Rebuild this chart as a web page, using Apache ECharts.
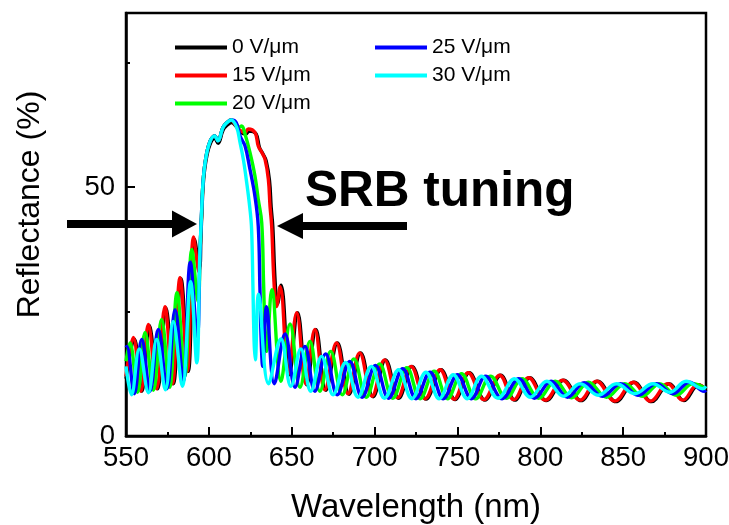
<!DOCTYPE html>
<html>
<head>
<meta charset="utf-8">
<script src="https://cdn.jsdelivr.net/npm/echarts@6/dist/echarts.min.js"></script>
<style>
html,body{margin:0;padding:0;background:#fff;}
#c{width:729px;height:525px;}
</style>
</head>
<body>
<div id="c"></div>
<script>
// Wavelength (nm), Reflectance (%) pairs
const seriesNames = ['0 V/\u03bcm', '15 V/\u03bcm', '20 V/\u03bcm', '25 V/\u03bcm', '30 V/\u03bcm'];
const xTicks = [550, 600, 650, 700, 750, 800, 850, 900];
const yTicks = [0, 50];

const v0 = [[550,11.5],[555,19.5],[559.6,9],[564.1,22.2],[569.1,9.5],[574.1,25.8],[578.6,10.5],[583.2,31.6],[587.6,13],[591.4,39.5],[594.4,34],[595.2,40],[595.8,45],[596.6,50.5],[598.1,55],[600.6,58.5],[603.6,59.8],[605.6,58.8],[608.6,61.5],[611.1,62.5],[613.8,63],[616.5,62.2],[619.4,61],[622.4,60.7],[624.4,61.3],[628.5,60.7],[630.5,58],[632.6,56.7],[634.6,55.3],[636.6,51.3],[637.6,46],[638.6,42],[640,31],[641.4,26.5],[643.6,30.3],[648.6,12.3],[653.6,24.8],[659.1,10.3],[664.6,21.4],[670.6,9.2],[677.6,18.7],[684.6,8.4],[691.6,16.7],[699.1,7.9],[706.6,15.3],[714.6,7.6],[722.6,14],[731.1,7.4],[740.1,13.3],[748.6,7.3],[757.1,12.7],[766.6,7.2],[776.1,12.2],[784.6,7.2],[793.6,11.7],[803.6,7.1],[814.1,11.2],[824.6,7.1],[834.6,11],[845.6,6.9],[856.6,10.8],[867.1,6.9],[877.6,10.5],[886.6,7.1],[895.6,10.3],[900,9]];

const v15 = [[550,12],[554.4,19.8],[559,9],[563.5,22.4],[568.5,9.5],[573.5,26],[578,10.5],[582.6,31.8],[587,13],[590.8,40],[594,33],[595,40],[595.7,45],[596.5,51],[598,55.5],[600.5,59],[603.5,60.3],[605.5,59.3],[608.5,62],[611,63],[613.5,63.5],[616,62.5],[618.8,61.4],[621.8,61],[623.8,61.7],[627.8,61],[629.8,58.3],[631.9,57],[633.9,55.6],[635.9,51.6],[636.9,46.2],[637.9,42.2],[639.3,31],[640.8,26],[643,30],[648,12.5],[653,24.8],[658.5,10.5],[664,21.4],[670,9.3],[677,18.7],[684,8.5],[691,16.7],[698.5,8],[706,15.3],[714,7.7],[722,14],[730.5,7.5],[739.5,13.3],[748,7.4],[756.5,12.7],[766,7.3],[775.5,12.2],[784,7.3],[793,11.7],[803,7.2],[813.5,11.2],[824,7.2],[834,11],[845,7],[856,10.8],[866.5,7],[877,10.5],[886,7.2],[895,10.3],[900,9.5]];

const v20 = [[550,15],[552.4,18.7],[557,8.8],[561.5,20.8],[566.5,9.2],[571.5,23.4],[576.3,9.8],[580.8,28.8],[585.5,12],[589.8,37.5],[593.5,27],[594.8,38],[595.6,44.5],[596.5,51],[598,55.5],[600.5,59],[603.5,60.3],[605.5,59.3],[608.5,62],[611,63],[613.5,63.5],[616,63],[618,62],[619.8,62.3],[621.8,60.7],[624.8,57],[627.8,52.3],[629.8,47.6],[631.9,42.9],[633,31],[633.9,21],[634.8,17],[638,29.4],[643.5,11],[649,22.5],[655,9.8],[661,19],[667,9],[673.5,17],[680.5,8.3],[687.5,15.5],[695,7.8],[703,14.5],[711,7.6],[719.5,13.7],[727.5,7.5],[736,13],[744,7.5],[752.5,12.5],[761,7.5],[770,12],[779.5,7.6],[789,11.5],[799,7.6],[809,11],[819,7.7],[829,10.8],[840,7.8],[851,10.5],[861.5,8],[872,10.5],[882,8.2],[892,10.5],[900,9.5]];

const v25 = [[550,17.8],[550.5,18],[555,8.5],[559.5,19.4],[564.5,9],[569.5,21.4],[574.8,9.5],[579.6,25.4],[584.6,11],[588.8,34.9],[593,20],[594.6,36],[595.5,44],[596.5,51],[598,55.5],[600.5,59],[603.5,60.3],[605.5,59.3],[608.5,62],[611,63],[613.5,63.5],[616.5,63],[618.8,60.3],[621.8,58.3],[624.8,53.6],[627.8,48.2],[629.8,42.2],[630.8,30],[631.6,19],[632.5,14],[634.8,26],[639.5,10.5],[646,20.5],[652,9.8],[658,18],[664,9],[670.5,16.5],[677.5,8.3],[685,15],[692.5,7.8],[700.5,14.2],[708.5,7.6],[717,13.5],[725,7.5],[733.5,12.8],[741.5,7.5],[750,12.3],[758.5,7.5],[767,12],[777,7.5],[787,11.5],[796.5,7.6],[806.5,11],[816.5,7.8],[826.5,10.7],[837.5,8],[848.5,10.5],[859,8.2],[870,10.5],[880,8.5],[890,10.8],[899,9],[900,9.2]];

const v30 = [[550,14],[553.3,8.3],[558,17.5],[563.5,8.7],[568.5,19.4],[573.8,9.3],[578.5,23],[584,10],[589,31],[592.7,14.7],[594.5,36],[595.5,44],[596.5,51],[598,55.5],[600.5,59],[603.5,60.3],[605.5,59.3],[608.5,62],[611,63],[613.5,63.5],[616.8,62],[618.8,59],[620.8,55.6],[622.8,51],[624.8,45.6],[625.8,41.5],[626.6,30],[627.3,19],[628,15.3],[630,28.5],[636,10.5],[643.5,19.5],[649.5,10],[655.5,17.5],[661.5,9],[668,16],[675,8.3],[682.5,14.8],[690,7.8],[698,14],[706,7.6],[714.5,13.3],[722.5,7.5],[731,12.8],[739,7.5],[747.5,12.3],[756,7.5],[764.5,12],[774.5,7.6],[784.5,11.5],[794,7.8],[804,11],[814,8],[824,10.5],[835,8.2],[846,10.5],[857,8.5],[868,10.5],[878,8.8],[888,11],[898,9.5],[900,10]];

const seriesData = [v0, v15, v20, v25, v30];
const colors = ['#000000', '#ff0000', '#00ff00', '#0000ff', '#00ffff'];

const FONT = '"Liberation Sans", Arial, sans-serif';
const chart = echarts.init(document.getElementById('c'), null, {renderer: 'canvas'});

const option = {
  animation: false,
  backgroundColor: '#fff',
  grid: {left: 126, right: 23, top: 13, bottom: 89, show: true, borderColor: '#000', borderWidth: 2.5,
         containLabel: false, outerBoundsMode: 'none'},
  legend: [
    {data: seriesNames.slice(0, 3), orient: 'vertical', left: 170, top: 32, itemWidth: 52, itemHeight: 4, itemGap: 7, icon: 'rect',
     textStyle: {fontFamily: FONT, fontSize: 21, color: '#000'}},
    {data: seriesNames.slice(3), orient: 'vertical', left: 370, top: 32, itemWidth: 52, itemHeight: 4, itemGap: 7, icon: 'rect',
     textStyle: {fontFamily: FONT, fontSize: 21, color: '#000'}}
  ],
  xAxis: {
    type: 'value', min: xTicks[0], max: xTicks[xTicks.length - 1], interval: 50,
    name: 'Wavelength (nm)', nameLocation: 'middle', nameGap: 55,
    nameTextStyle: {fontFamily: FONT, fontSize: 33, color: '#000'},
    axisLine: {lineStyle: {color: '#000', width: 2.5}},
    axisTick: {inside: true, length: 9, lineStyle: {color: '#000', width: 2}},
    minorTick: {show: true, splitNumber: 2, length: 4, lineStyle: {color: '#000', width: 2}},
    axisLabel: {fontFamily: FONT, fontSize: 27.5, color: '#000', margin: 8},
    splitLine: {show: false}
  },
  yAxis: [
    {
      type: 'value', min: 0, max: 85, interval: 50,
      name: 'Reflectance (%)', nameLocation: 'middle', nameGap: 80,
      nameTextStyle: {fontFamily: FONT, fontSize: 32, color: '#000', padding: [0, 0, 0, 40]},
      axisLine: {lineStyle: {color: '#000', width: 2.5}},
      axisTick: {inside: true, length: 9, lineStyle: {color: '#000', width: 2}},
      axisLabel: {fontFamily: FONT, fontSize: 27.5, color: '#000', margin: 11, showMaxLabel: false,
        formatter: function (v) { return yTicks.indexOf(v) >= 0 ? String(v) : ''; }},
      splitLine: {show: false}
    },
    {
      type: 'value', min: 0, max: 85, interval: 25, position: 'left',
      axisLine: {show: false},
      axisTick: {inside: true, length: 4, lineStyle: {color: '#000', width: 2}},
      axisLabel: {show: false},
      splitLine: {show: false}
    }
  ],
  series: seriesData.map(function (d, i) {
    return {
      name: seriesNames[i], type: 'line', data: d, yAxisIndex: 0,
      smooth: 0.4, symbol: 'none', showSymbol: false,
      lineStyle: {color: colors[i], width: 3.4}, itemStyle: {color: colors[i]},
      z: 2 + i
    };
  }),
  graphic: [
    {type: 'rect', shape: {x: 67, y: 220, width: 107, height: 8}, style: {fill: '#000'}, z: 100},
    {type: 'polygon', shape: {points: [[172, 210.5], [197, 224], [172, 237.5]]}, style: {fill: '#000'}, z: 100},
    {type: 'rect', shape: {x: 301, y: 222, width: 106, height: 8}, style: {fill: '#000'}, z: 100},
    {type: 'polygon', shape: {points: [[277, 226], [303, 213], [303, 239]]}, style: {fill: '#000'}, z: 100},
    {type: 'text', x: 305, y: 192, style: {text: 'SRB tuning', font: 'bold 49.5px "Liberation Sans", Arial, sans-serif', fill: '#000', verticalAlign: 'middle', align: 'left'}, z: 100}
  ]
};
chart.setOption(option);
</script>
</body>
</html>
